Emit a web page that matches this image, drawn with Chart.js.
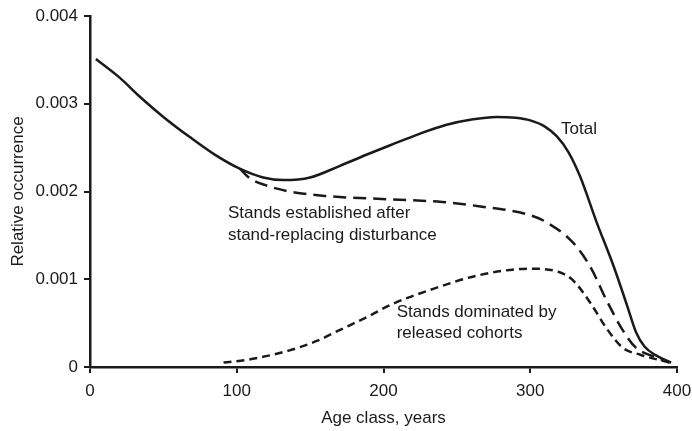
<!DOCTYPE html>
<html>
<head>
<meta charset="utf-8">
<script src="https://cdn.jsdelivr.net/npm/chart.js@4"></script>
<style>
  html, body { margin: 0; padding: 0; background: #fff; }
  #wrap { width: 692px; height: 431px; }
</style>
</head>
<body>
<div id="wrap"><canvas id="chart" width="692" height="431"></canvas></div>
<script>
// values (age in years, relative occurrence)
var totalAge = [4, 20, 34, 50, 68, 85, 102, 118, 132, 150, 170, 190, 205, 225, 243, 260, 277, 290, 300, 310, 318, 326, 334, 345, 357, 366, 372, 378, 386, 396];
var totalVal = [0.00351, 0.00330, 0.00308, 0.00285, 0.00262, 0.00242, 0.00226, 0.00216, 0.00213, 0.00216, 0.00229, 0.00243, 0.00253, 0.00266, 0.00276, 0.00282, 0.00285, 0.00284, 0.00281, 0.00274, 0.00263, 0.00245, 0.00217, 0.00166, 0.00114, 0.00070, 0.00040, 0.00023, 0.00013, 0.00005];

var replAge = [102, 109, 120, 136, 160, 205, 240, 266, 300, 311, 329, 341, 352, 363, 372, 384, 395];
var replVal = [0.00226, 0.00215, 0.00207, 0.00200, 0.00195, 0.00191, 0.00188, 0.00183, 0.00173, 0.00165, 0.00142, 0.00114, 0.00076, 0.00042, 0.00022, 0.00012, 0.00005];

var relAge = [91, 110, 136, 155, 170, 190, 205, 232, 266, 300, 320, 329, 341, 352, 363, 375, 395];
var relVal = [0.00005, 0.00009, 0.00019, 0.00030, 0.00042, 0.00058, 0.00071, 0.00088, 0.00105, 0.00112, 0.00108, 0.00099, 0.00073, 0.00044, 0.00022, 0.00014, 0.00005];

var xTicks = [0, 100, 200, 300, 400];
var yTicks = [0, 0.001, 0.002, 0.003, 0.004];

// text labels placed in data units
var notes = [
  { text: 'Total', x: 321, y: 0.00271 },
  { text: 'Stands established after', x: 94, y: 0.00175 },
  { text: 'stand-replacing disturbance', x: 94, y: 0.00150 },
  { text: 'Stands dominated by', x: 209, y: 0.00062 },
  { text: 'released cohorts', x: 209, y: 0.00038 }
];

function pts(xs, ys) {
  var out = [];
  for (let i = 0; i < xs.length; i++) out.push({ x: xs[i], y: ys[i] });
  return out;
}

var FONT = "'Liberation Sans', Arial, Helvetica, sans-serif";
var INK = '#1a1a1a';
var FS = 17;

var notePlugin = {
  id: 'notes',
  afterDatasetsDraw: function(chart) {
    var ctx = chart.ctx;
    var xs = chart.scales.x, ys = chart.scales.y;
    ctx.save();
    ctx.fillStyle = INK;
    ctx.font = FS + 'px ' + FONT;
    ctx.textAlign = 'left';
    ctx.textBaseline = 'middle';
    for (let i = 0; i < notes.length; i++) {
      ctx.fillText(notes[i].text, xs.getPixelForValue(notes[i].x), ys.getPixelForValue(notes[i].y));
    }
    ctx.restore();
  }
};

var lineStyle = {
  borderColor: INK,
  borderWidth: 2.5,
  pointRadius: 0,
  fill: false,
  cubicInterpolationMode: 'monotone'
};

new Chart(document.getElementById('chart').getContext('2d'), {
  type: 'line',
  data: {
    datasets: [
      Object.assign({ label: 'Total', data: pts(totalAge, totalVal) }, lineStyle),
      Object.assign({ label: 'Stand-replacing', data: pts(replAge, replVal), borderDash: [13, 7] }, lineStyle),
      Object.assign({ label: 'Released cohorts', data: pts(relAge, relVal), borderDash: [8, 5] }, lineStyle)
    ]
  },
  options: {
    responsive: false,
    animation: false,
    layout: { padding: { left: 0, right: 15, top: 16, bottom: 0 } },
    plugins: { legend: { display: false }, tooltip: { enabled: false } },
    scales: {
      x: {
        type: 'linear',
        min: 0, max: 400,
        afterBuildTicks: function(axis) { axis.ticks = xTicks.map(function(v) { return { value: v }; }); },
        afterFit: function(axis) { axis.height = 64; axis.paddingLeft = 0; axis.paddingRight = 0; },
        border: { color: INK, width: 2.5 },
        grid: { drawOnChartArea: false, color: INK, lineWidth: 2, tickLength: 6 },
        ticks: { color: INK, font: { family: FONT, size: FS }, padding: 8, maxRotation: 0 },
        title: { display: true, text: 'Age class, years', color: INK, font: { family: FONT, size: FS }, padding: { top: 4, bottom: 2 } }
      },
      y: {
        type: 'linear',
        min: 0, max: 0.004,
        afterBuildTicks: function(axis) { axis.ticks = yTicks.map(function(v) { return { value: v }; }); },
        afterFit: function(axis) { axis.width = 90; axis.paddingTop = 0; axis.paddingBottom = 0; },
        border: { color: INK, width: 2.5 },
        grid: { drawOnChartArea: false, color: INK, lineWidth: 2, tickLength: 6 },
        ticks: {
          color: INK, font: { family: FONT, size: FS }, padding: 6,
          callback: function(v) { return v === 0 ? '0' : v.toFixed(3); }
        },
        title: { display: true, text: 'Relative occurrence', color: INK, font: { family: FONT, size: FS }, padding: { top: 8, bottom: 4 } }
      }
    }
  },
  plugins: [notePlugin]
});
</script>
</body>
</html>
